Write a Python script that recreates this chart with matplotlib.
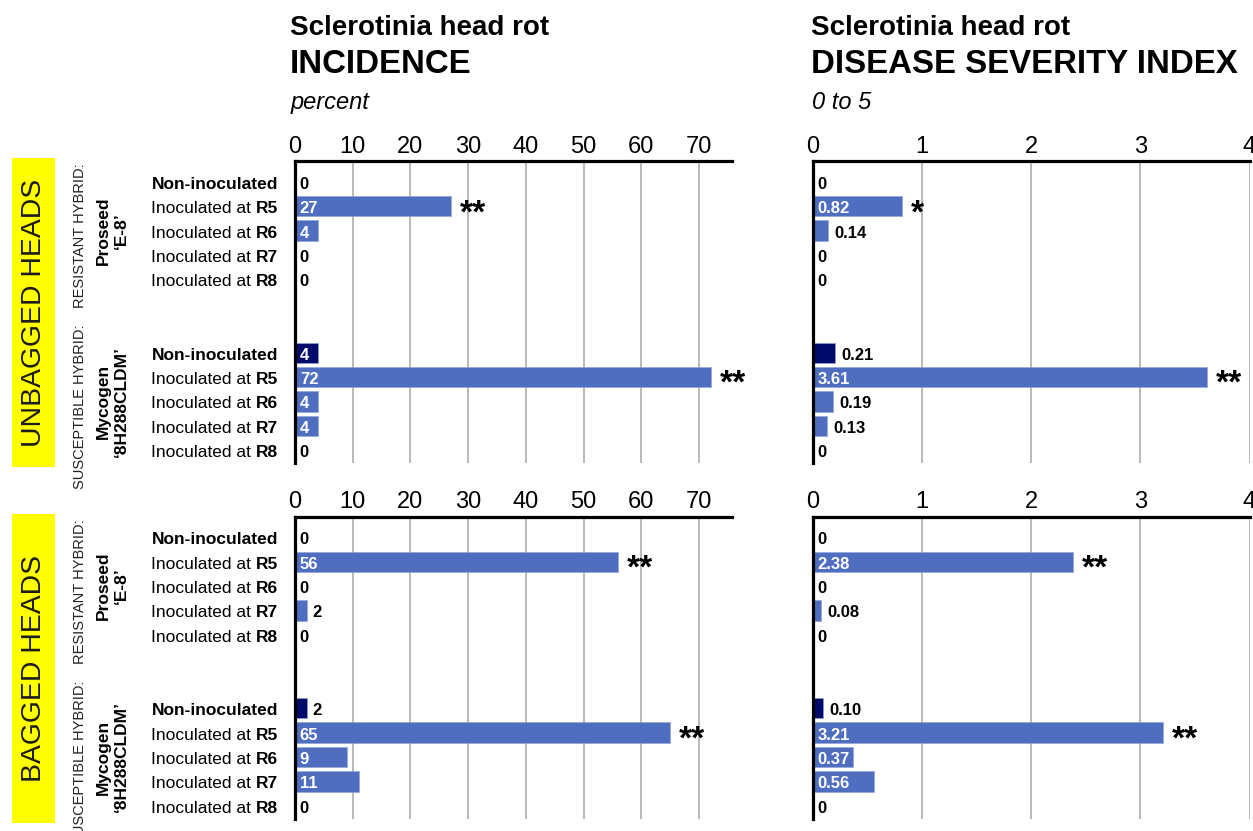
import matplotlib
matplotlib.use("Agg")
import matplotlib.pyplot as plt
from matplotlib.patches import Rectangle
from matplotlib import transforms
from matplotlib import font_manager

plt.rcParams['font.family'] = ['Liberation Sans', 'DejaVu Sans']

# condensed face when available, otherwise the regular face at a reduced size
_installed = {f.name for f in font_manager.fontManager.ttflist}
if 'Liberation Sans Narrow' in _installed:
    NARROW, NS = ['Liberation Sans Narrow', 'DejaVu Sans'], 1.0
else:
    NARROW, NS = ['Liberation Sans', 'DejaVu Sans'], 0.85

# ---- data ----
stages = ['Non-inoculated', 'R5', 'R6', 'R7', 'R8']
hybrid_types = ['RESISTANT HYBRID:', 'SUSCEPTIBLE HYBRID:']
hybrid_names = ['Proseed\n\u2018E-8\u2019', 'Mycogen\n\u20188H288CLDM\u2019']
conditions = ['UNBAGGED HEADS', 'BAGGED HEADS']

incidence_unbagged_resistant = [0, 27, 4, 0, 0]
incidence_unbagged_susceptible = [4, 72, 4, 4, 0]
incidence_bagged_resistant = [0, 56, 0, 2, 0]
incidence_bagged_susceptible = [2, 65, 9, 11, 0]

dsi_unbagged_resistant = [0, 0.82, 0.14, 0, 0]
dsi_unbagged_susceptible = [0.21, 3.61, 0.19, 0.13, 0]
dsi_bagged_resistant = [0, 2.38, 0, 0.08, 0]
dsi_bagged_susceptible = [0.10, 3.21, 0.37, 0.56, 0]

incidence_sig_unbagged_resistant = ['', '**', '', '', '']
incidence_sig_unbagged_susceptible = ['', '**', '', '', '']
incidence_sig_bagged_resistant = ['', '**', '', '', '']
incidence_sig_bagged_susceptible = ['', '**', '', '', '']
dsi_sig_unbagged_resistant = ['', '*', '', '', '']
dsi_sig_unbagged_susceptible = ['', '**', '', '', '']
dsi_sig_bagged_resistant = ['', '**', '', '', '']
dsi_sig_bagged_susceptible = ['', '**', '', '', '']

incidence_ticks = [0, 10, 20, 30, 40, 50, 60, 70]
dsi_ticks = [0, 1, 2, 3, 4]

# ---- styling ----
W, H = 1253, 831
BLUE = '#4F6EBF'
NAVY = '#000A6B'
GRID = '#A6A6A6'

fig = plt.figure(figsize=(W / 100, H / 100), dpi=100)
fig.patch.set_facecolor('white')

ax_w = 437 / W
ax_h = 302 / H
left_x = 295 / W
right_x = 812.5 / W
top_y = 1 - 463 / H
bot_y = 1 - 818.5 / H

group_rows = [[0, 1, 2, 3, 4], [7, 8, 9, 10, 11]]


def fmt_incidence(v):
    return f'{v:.0f}'


def fmt_dsi(v):
    return '0' if v == 0 else f'{v:.2f}'


def make_panel(rect, xmax, ticks, series, sigs, fmt):
    ax = fig.add_axes(rect)
    ax.set_xlim(0, xmax)
    ax.set_ylim(11.52, -0.85)
    ax.xaxis.tick_top()
    ax.set_xticks(ticks)
    ax.set_xticklabels([str(t) for t in ticks])
    for lab in ax.get_xticklabels():
        lab.set_fontfamily(NARROW)
        lab.set_fontsize(20 * NS)
    ax.tick_params(axis='x', length=0, pad=2.5)
    ax.set_yticks([])
    ax.grid(axis='x', color=GRID, lw=1.1)
    ax.set_axisbelow(True)
    for s in ('right', 'bottom'):
        ax.spines[s].set_visible(False)
    for s in ('top', 'left'):
        ax.spines[s].set_color('black')
        ax.spines[s].set_linewidth(2.3)
        ax.spines[s].set_capstyle('projecting')

    renderer = fig.canvas.get_renderer()
    for rows, vals, sg in zip(group_rows, series, sigs):
        colors = [NAVY if st == 'Non-inoculated' else BLUE for st in stages]
        ax.barh(rows, vals, height=0.83, color=colors,
                edgecolor='#8EA2D6', linewidth=0.4)
        for y, v, s in zip(rows, vals, sg):
            label = fmt(v)
            if v == 0:
                ax.annotate(label, (0, y), xytext=(3.5, -5), textcoords='offset points',
                            ha='left', va='baseline', fontsize=12, weight='bold',
                            color='black')
            else:
                t = ax.annotate(label, (0, y), xytext=(3.5, -5), textcoords='offset points',
                                ha='left', va='baseline', fontsize=12, weight='bold',
                                color='white')
                tw = t.get_window_extent(renderer).width
                bar_px = ax.transData.transform((v, 0))[0] - ax.transData.transform((0, 0))[0]
                if tw + 6 > bar_px:
                    t.remove()
                    ax.annotate(label, (v, y), xytext=(4.5, -5), textcoords='offset points',
                                ha='left', va='baseline', fontsize=12, weight='bold',
                                color='black')
            if s:
                ax.annotate(s, (v, y), xytext=(6.5, -11.5), textcoords='offset points',
                            ha='left', va='baseline', fontsize=24, weight='bold',
                            color='black')
    return ax


ax_ti = make_panel([left_x, top_y, ax_w, ax_h], 75.7, incidence_ticks,
                   [incidence_unbagged_resistant, incidence_unbagged_susceptible],
                   [incidence_sig_unbagged_resistant, incidence_sig_unbagged_susceptible],
                   fmt_incidence)
ax_td = make_panel([right_x, top_y, ax_w, ax_h], 4, dsi_ticks,
                   [dsi_unbagged_resistant, dsi_unbagged_susceptible],
                   [dsi_sig_unbagged_resistant, dsi_sig_unbagged_susceptible],
                   fmt_dsi)
ax_bi = make_panel([left_x, bot_y, ax_w, ax_h], 75.7, incidence_ticks,
                   [incidence_bagged_resistant, incidence_bagged_susceptible],
                   [incidence_sig_bagged_resistant, incidence_sig_bagged_susceptible],
                   fmt_incidence)
ax_bd = make_panel([right_x, bot_y, ax_w, ax_h], 4, dsi_ticks,
                   [dsi_bagged_resistant, dsi_bagged_susceptible],
                   [dsi_sig_bagged_resistant, dsi_sig_bagged_susceptible],
                   fmt_dsi)

# ---- panel titles ----
for x0, sub, unit in [(290, 'INCIDENCE', 'percent'), (811, 'DISEASE SEVERITY INDEX', '0 to 5')]:
    fig.text(x0 / W, 1 - 35 / H, 'Sclerotinia head rot', fontsize=20, weight='bold',
             ha='left', va='baseline')
    fig.text(x0 / W, 1 - 73 / H, sub, fontsize=28 * NS, weight='bold', family=NARROW,
             ha='left', va='baseline')
    fig.text((x0 + 1) / W, 1 - 109 / H, unit, fontsize=17, style='italic',
             ha='left', va='baseline')

# ---- row labels, hybrid labels and condition bands ----
label_x = 278 / W
type_size = 13 if NS == 1.0 else 10.5
for ax, cond in [(ax_ti, conditions[0]), (ax_bi, conditions[1])]:
    tr = transforms.blended_transform_factory(fig.transFigure, ax.transData)
    for rows, htype, hname in zip(group_rows, hybrid_types, hybrid_names):
        for y, st in zip(rows, stages):
            if st == 'Non-inoculated':
                ax.annotate(st, (label_x, y), xycoords=tr, xytext=(0, -5),
                            textcoords='offset points', ha='right', va='baseline',
                            fontsize=12.5, weight='bold', annotation_clip=False)
            else:
                tb = ax.annotate(st, (label_x, y), xycoords=tr, xytext=(0, -5),
                                 textcoords='offset points', ha='right', va='baseline',
                                 fontsize=12.5, weight='bold', annotation_clip=False)
                ax.annotate('Inoculated at', (0, 0), xycoords=tb, xytext=(-3.5, 0),
                            textcoords='offset points', ha='right', va='bottom',
                            fontsize=12.5, annotation_clip=False)
        yc = (rows[0] + rows[-1]) / 2
        ax.annotate(htype, (80 / W, yc), xycoords=tr, xytext=(0, -4),
                    textcoords='offset points', rotation=90, ha='center', va='center',
                    fontsize=type_size, family=NARROW, color='#222222',
                    annotation_clip=False)
        ax.text(112 / W, yc, hname, transform=tr, rotation=90, ha='center', va='center',
                fontsize=12.5, weight='bold', multialignment='center', linespacing=1.25,
                clip_on=False)
    pos = ax.get_position()
    y0 = pos.y0 - 4 / H
    y1 = pos.y1 + 3 / H
    fig.add_artist(Rectangle((12 / W, y0), 43 / W, y1 - y0, transform=fig.transFigure,
                             facecolor='#FFFF00', edgecolor='none', zorder=0))
    fig.text(34 / W, (y0 + y1) / 2, cond, rotation=90, ha='center', va='center',
             fontsize=24 * NS, family=NARROW, color='#1A1A1A')

fig.savefig('out.png', dpi=100)
